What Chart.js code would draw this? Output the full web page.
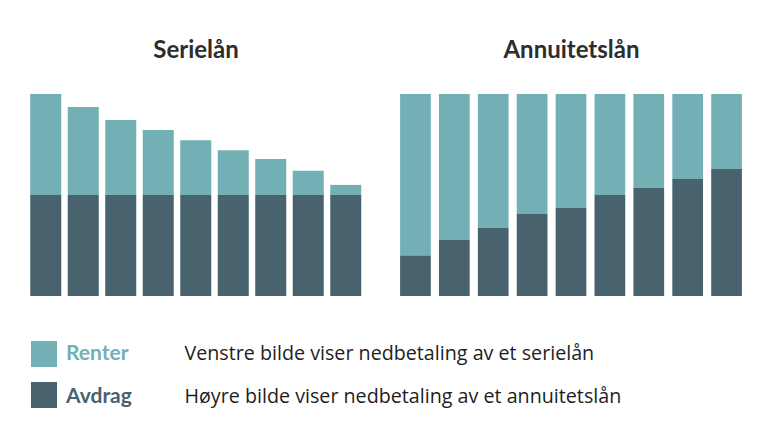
<!DOCTYPE html>
<html><head><meta charset="utf-8">
<script src="https://cdn.jsdelivr.net/npm/chart.js@4"></script>
<style>
html,body{margin:0;padding:0;background:#fff;width:772px;height:445px;overflow:hidden;font-family:Lato,"Open Sans",sans-serif;}
.abs{position:absolute;white-space:nowrap;}
.title{font-family:Lato,sans-serif;font-weight:bold;font-size:24px;color:#2d2d2d;text-align:center;width:300px;top:33.5px;}
.sw{width:26px;height:25.5px;}
.lab{font-family:Lato,sans-serif;font-weight:bold;font-size:21px;}
.txt{font-family:"Open Sans",sans-serif;font-size:19.7px;color:#1e1e1e;}
</style></head><body>
<div class="abs title" id="h1" style="left:46px"></div>
<div class="abs title" id="h2" style="left:421.5px"></div>
<div class="abs" style="left:26.75px;top:94px;width:337.5px;height:202px"><canvas id="c1"></canvas></div>
<div class="abs" style="left:396px;top:94px;width:350px;height:202px"><canvas id="c2"></canvas></div>
<div class="abs sw" id="sw1" style="left:30.5px;top:341px"></div>
<div class="abs sw" id="sw2" style="left:30.5px;top:382px"></div>
<div class="abs lab" id="l1" style="left:66px;top:339.3px"></div>
<div class="abs lab" id="l2" style="left:66px;top:382px"></div>
<div class="abs txt" id="t1" style="left:184.5px;top:339px"></div>
<div class="abs txt" id="t2" style="left:184.5px;top:381.7px"></div>
<script>
const periods = ["1","2","3","4","5","6","7","8","9"];
const serieAvdrag = [50,50,50,50,50,50,50,50,50];
const serieRenter = [50,43.6,37.1,32.2,27.1,22.1,17.8,12.0,5.0];
const annuitetAvdrag = [20.0,27.7,33.7,40.7,43.7,50.0,53.6,57.9,62.9];
const annuitetRenter = [80.0,72.3,66.3,59.3,56.3,50.0,46.4,42.1,37.1];
const titles = ["Serielån","Annuitetslån"];
const seriesNames = ["Renter","Avdrag"];
const notes = ["Venstre bilde viser nedbetaling av et serielån","Høyre bilde viser nedbetaling av et annuitetslån"];
const colRenter = "#72b0b5", colAvdrag = "#48626e";

document.getElementById('h1').textContent = titles[0];
document.getElementById('h2').textContent = titles[1];
document.getElementById('sw1').style.background = colRenter;
document.getElementById('sw2').style.background = colAvdrag;
document.getElementById('l1').textContent = seriesNames[0];
document.getElementById('l1').style.color = colRenter;
document.getElementById('l2').textContent = seriesNames[1];
document.getElementById('l2').style.color = colAvdrag;
document.getElementById('t1').textContent = notes[0];
document.getElementById('t2').textContent = notes[1];

function make(id, avdrag, renter, pct){
  new Chart(document.getElementById(id), {
    type:'bar',
    data:{labels:periods, datasets:[
      {label:seriesNames[1], data:avdrag, backgroundColor:colAvdrag, barPercentage:pct, categoryPercentage:1},
      {label:seriesNames[0], data:renter, backgroundColor:colRenter, barPercentage:pct, categoryPercentage:1}
    ]},
    options:{responsive:true, maintainAspectRatio:false, animation:false,
      layout:{padding:0},
      plugins:{legend:{display:false}, tooltip:{enabled:false}, title:{display:false}},
      scales:{x:{stacked:true, display:false}, y:{stacked:true, display:false, min:0, max:100}}
    }
  });
}
make('c1', serieAvdrag, serieRenter, 0.827);
make('c2', annuitetAvdrag, annuitetRenter, 0.79);
</script>
</body></html>
